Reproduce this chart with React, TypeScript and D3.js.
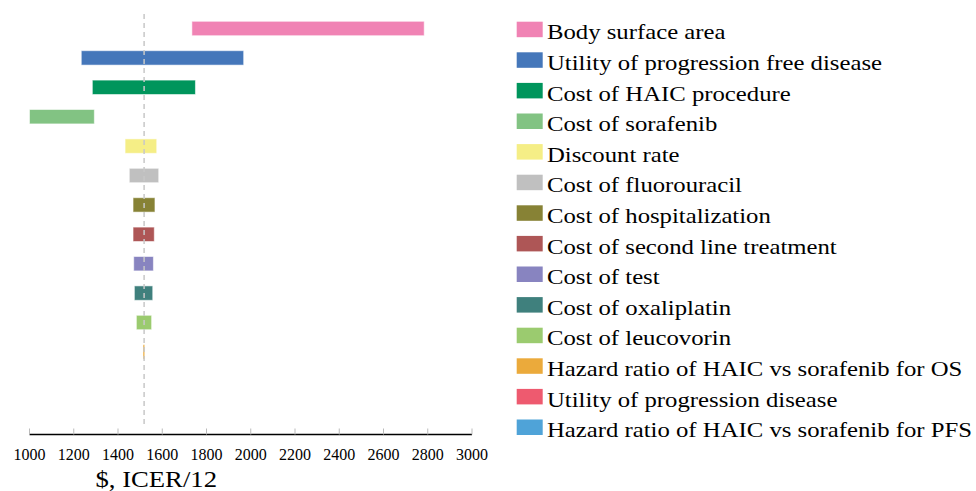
import React, { useEffect, useRef } from "react";
import * as d3 from "d3";

const categories = [
  "Body surface area",
  "Utility of progression free disease",
  "Cost of HAIC procedure",
  "Cost of sorafenib",
  "Discount rate",
  "Cost of fluorouracil",
  "Cost of hospitalization",
  "Cost of second line treatment",
  "Cost of test",
  "Cost of oxaliplatin",
  "Cost of leucovorin",
  "Hazard ratio of HAIC vs sorafenib for OS",
  "Utility of progression disease",
  "Hazard ratio of HAIC vs sorafenib for PFS",
];
const lowValues = [1734, 1234, 1284, 1000, 1432, 1451, 1468, 1468, 1471, 1474, 1483, 1513, 1518, 1518];
const highValues = [2784, 1968, 1750, 1293, 1575, 1584, 1567, 1564, 1560, 1557, 1552, 1521, 1518, 1518];
const colors = [
  "#F083B4", "#4577BA", "#00955C", "#82C383", "#F5EE86", "#C0C0C0", "#878235",
  "#AE5656", "#8884C0", "#3F807D", "#9BCB6F", "#EBAA3B", "#EE5A6F", "#4FA3D8",
];
const baseValue = 1518;
const xTicks = [1000, 1200, 1400, 1600, 1800, 2000, 2200, 2400, 2600, 2800, 3000];
const xTitle = "$, ICER/12";

export default function App() {
  const ref = useRef<SVGSVGElement>(null);
  useEffect(() => {
    const svg = d3.select(ref.current);
    svg.selectAll("*").remove();
    const x = d3.scaleLinear().domain([1000, 3000]).range([29.5, 472]);
    const y = d3
      .scaleBand<string>()
      .domain(categories)
      .range([13.8, 425.4])
      .paddingInner(0.51)
      .paddingOuter(0.255);
    const font = "'Liberation Serif', 'Times New Roman', serif";

    // bars
    svg
      .append("g")
      .selectAll("rect")
      .data(categories)
      .join("rect")
      .attr("x", (_, i) => x(Math.min(lowValues[i], highValues[i])))
      .attr("y", (d) => y(d)!)
      .attr("width", (_, i) => Math.abs(x(highValues[i]) - x(lowValues[i])))
      .attr("height", y.bandwidth())
      .attr("fill", (_, i) => colors[i])
      .attr("stroke", "rgba(255,255,255,0.55)")
      .attr("stroke-width", 1);

    // base dashed line
    svg
      .append("line")
      .attr("x1", x(baseValue))
      .attr("x2", x(baseValue))
      .attr("y1", 14)
      .attr("y2", 428)
      .attr("stroke", "#C8C8C8")
      .attr("stroke-width", 1.5)
      .attr("stroke-dasharray", "5,4");

    // axis
    const axisY = 434.5;
    const ax = svg.append("g");
    ax.append("line")
      .attr("x1", x(1000))
      .attr("x2", x(3000))
      .attr("y1", axisY)
      .attr("y2", axisY)
      .attr("stroke", "#000")
      .attr("stroke-width", 1.5);
    ax.selectAll("line.tick")
      .data(xTicks)
      .join("line")
      .attr("class", "tick")
      .attr("x1", (d) => x(d))
      .attr("x2", (d) => x(d))
      .attr("y1", axisY - 6)
      .attr("y2", axisY)
      .attr("stroke", "#BBBBBB")
      .attr("stroke-width", 1);
    ax.selectAll("text")
      .data(xTicks)
      .join("text")
      .attr("x", (d) => x(d))
      .attr("y", 459.5)
      .attr("text-anchor", "middle")
      .attr("font-family", font)
      .attr("font-size", 16)
      .attr("fill", "#000")
      .text((d) => String(d));

    svg
      .append("text")
      .attr("transform", "translate(95.5,486.7) scale(1.16,1)")
      .attr("font-family", font)
      .attr("font-size", 23)
      .attr("fill", "#000")
      .text(xTitle);

    // legend
    const lg = svg.append("g");
    const rows = lg
      .selectAll("g")
      .data(categories)
      .join("g")
      .attr("transform", (_, i) => `translate(516.7,${29.3 + i * 30.6})`);
    rows
      .append("rect")
      .attr("x", 0)
      .attr("y", -7.6)
      .attr("width", 26)
      .attr("height", 15.5)
      .attr("fill", (_, i) => colors[i]);
    rows
      .append("text")
      .attr("transform", "translate(30.3,10) scale(1.14,1)")
      .attr("font-family", font)
      .attr("font-size", 21.7)
      .attr("fill", "#000")
      .text((d) => d);
  }, []);
  return (
    <svg
      ref={ref}
      width={976}
      height={491}
      style={{ position: "absolute", left: 0, top: 0, background: "#fff" }}
    />
  );
}
